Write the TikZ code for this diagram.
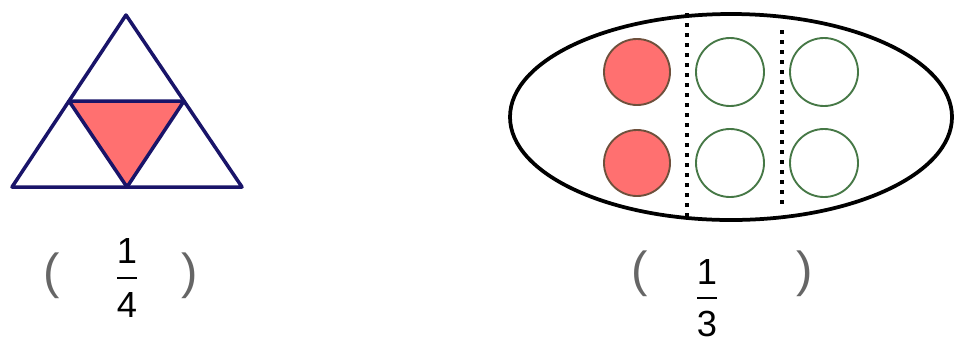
\documentclass[tikz,border=0pt]{standalone}
\usepackage{fontspec}
\setmainfont{Liberation Sans}
\usetikzlibrary{calc,shapes.geometric}

\definecolor{navy}{RGB}{25,20,105}
\definecolor{salmon}{RGB}{255,112,112}
\definecolor{ringgreen}{RGB}{70,120,70}
\definecolor{ringbrown}{RGB}{110,80,60}

\begin{document}
\begin{tikzpicture}[x=0.03cm,y=-0.03cm]
  \tikzset{
    digit/.style={font=\fontsize{31}{36}\selectfont,inner sep=0pt},
    paren/.style={font=\fontsize{42}{48}\selectfont,text=black!60,inner sep=0pt},
    bar/.style={line width=2.2pt},
    ring/.style={draw=ringgreen,line width=1.6pt},
    filled/.style={draw=ringbrown,fill=salmon,line width=1.6pt}
  }
  \useasboundingbox (0,0) rectangle (961,350);
  % triangle split into four
  \coordinate (A) at (126,15);
  \coordinate (B) at (12,187);
  \coordinate (C) at (242,187);
  \coordinate (AB) at ($(A)!0.5!(B)$);
  \coordinate (AC) at ($(A)!0.5!(C)$);
  \coordinate (BC) at ($(B)!0.5!(C)$);
  \fill[salmon] (AB) -- (AC) -- (BC) -- cycle;
  \draw[navy,line width=3pt,line join=round] (A) -- (B) -- (C) -- cycle;
  \draw[navy,line width=3pt,line join=round] (AB) -- (AC) -- (BC) -- cycle;
  % answer 1/4
  \node[paren] (lopen) at (52,276) {(};
  \node[digit] (lnum) at (127,251) {1};
  \node[digit] (lden) at (127,305) {4};
  \node[paren] (lclose) at (190,276) {)};
  \coordinate (lbar) at ($(lnum)!0.5!(lden)$);
  \draw[bar] ($(lbar)+(-10,0)$) -- ($(lbar)+(10,0)$);
  % oval with six balls
  \node[draw,ellipse,line width=3.2pt,minimum width=442*0.03cm,minimum height=206*0.03cm] (oval) at (731,117) {};
  \draw[line width=3pt,dash pattern=on 0.11cm off 0.19cm] (687,13) -- (687,216);
  \draw[line width=3pt,dash pattern=on 0.11cm off 0.19cm] (782,30) -- (782,210);
  \foreach \y [count=\r] in {72,163} {
    \node[filled,circle,minimum size=66*0.03cm] (red\r) at (637,\y) {};
    \node[ring,circle,minimum size=68*0.03cm] (mid\r) at (730,\y) {};
    \node[ring,circle,minimum size=68*0.03cm] (right\r) at (824,\y) {};
  }
  % answer 1/3
  \node[paren] (ropen) at (640,274) {(};
  \node[digit] (rnum) at (707,272) {1};
  \node[digit] (rden) at (707,324) {3};
  \node[paren] (rclose) at (805,274) {)};
  \coordinate (rbar) at ($(rnum)!0.5!(rden)$);
  \draw[bar] ($(rbar)+(-10,0)$) -- ($(rbar)+(10,0)$);
\end{tikzpicture}
\end{document}
